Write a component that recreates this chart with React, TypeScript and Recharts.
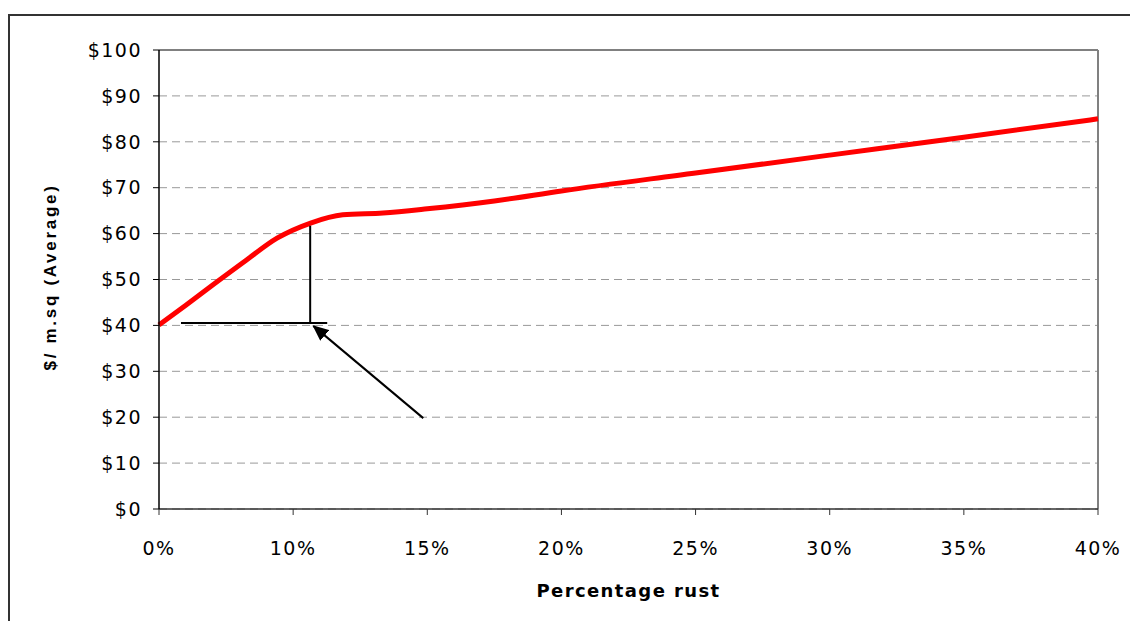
import React from 'react'
import {
  CartesianGrid,
  Label,
  Line,
  LineChart,
  ReferenceLine,
  XAxis,
  YAxis,
} from 'recharts'

// category slots on the x axis (0% .. 40%), position = slot index
const xTickLabels = ['0%', '10%', '15%', '20%', '25%', '30%', '35%', '40%']
const xTicks = [0, 1, 2, 3, 4, 5, 6, 7]
const yTicks = [0, 10, 20, 30, 40, 50, 60, 70, 80, 90, 100]

// points of the curve (slot position, $ per m.sq)
const rustPos = [0, 0.2, 0.4, 0.65, 0.88, 1.13, 1.37, 1.67, 2, 2.5, 3, 4, 5, 6, 7]
const avgCost = [40.1, 44.4, 48.8, 54.2, 59.0, 62.3, 64.1, 64.5, 65.4, 67.1, 69.3, 73.2, 77.1, 81.0, 85.0]

// annotation: reading at ~10% rust
const guideH = [{ x: 0.164, y: 40.5 }, { x: 1.254, y: 40.5 }]
const guideV = [{ x: 1.127, y: 40.5 }, { x: 1.127, y: 61.7 }]
const arrow = [{ x: 1.97, y: 19.8 }, { x: 1.15, y: 39.9 }]

const chartData = rustPos.map((p, i) => ({ pos: p, cost: avgCost[i] }))

const tickFont = {
  fontFamily: 'DejaVu Sans',
  fontSize: 19,
  letterSpacing: 1.5,
  fill: '#000',
}

export default function App() {
  return (
    <div
      style={{
        position: 'fixed',
        left: 0,
        top: 0,
        width: 1130,
        height: 621,
        overflow: 'hidden',
        background: '#fff',
      }}
    >
      <div
        style={{
          position: 'absolute',
          left: 8,
          top: 14,
          width: 1140,
          height: 640,
          border: '2px solid #333',
        }}
      >
        <LineChart
          width={1120}
          height={605}
          data={chartData}
          margin={{ top: 34, right: 32, bottom: 12, left: 0 }}
        >
          <defs>
            <marker
              id='arrowHead'
              markerWidth={16}
              markerHeight={14}
              refX={15}
              refY={7}
              orient='auto'
              markerUnits='userSpaceOnUse'
            >
              <path d='M0,0 L16,7 L0,14 z' fill='#000' />
            </marker>
          </defs>
          <CartesianGrid vertical={false} stroke='#999' strokeDasharray='8 5' />
          <XAxis
            dataKey='pos'
            type='number'
            domain={[0, 7]}
            ticks={xTicks}
            tickFormatter={(v: number) => xTickLabels[v]}
            height={100}
            tickSize={6}
            tickMargin={27}
            axisLine={{ stroke: '#333', strokeWidth: 1.5 }}
            tickLine={{ stroke: '#333' }}
            tick={tickFont}
            interval={0}
          >
            <Label
              content={({ viewBox }: any) => (
                <text
                  x={viewBox.x + viewBox.width / 2}
                  y={581}
                  textAnchor='middle'
                  fontFamily='DejaVu Sans'
                  fontWeight='bold'
                  fontSize={18}
                  letterSpacing={1.4}
                  fill='#000'
                >
                  Percentage rust
                </text>
              )}
            />
          </XAxis>
          <YAxis
            type='number'
            domain={[0, 100]}
            ticks={yTicks}
            tickFormatter={(v: number) => `$${v}`}
            width={149}
            tickSize={6}
            tickMargin={11}
            axisLine={{ stroke: '#000', strokeWidth: 1.5 }}
            tickLine={{ stroke: '#000' }}
            tick={tickFont}
            interval={0}
          >
            <Label
              content={() => (
                <text
                  x={46}
                  y={261}
                  transform='rotate(-90 46 261)'
                  textAnchor='middle'
                  fontFamily='Liberation Sans'
                  fontWeight='bold'
                  fontSize={17}
                  letterSpacing={2.7}
                  fill='#000'
                >
                  $/ m.sq (Average)
                </text>
              )}
            />
          </YAxis>
          <ReferenceLine y={100} stroke='#808080' strokeWidth={2} />
          <ReferenceLine x={7} stroke='#808080' strokeWidth={2} />
          <Line
            type='monotone'
            dataKey='cost'
            stroke='#ff0000'
            strokeWidth={5}
            dot={false}
            activeDot={false}
            isAnimationActive={false}
          />
          <ReferenceLine segment={guideH} stroke='#000' strokeWidth={2} />
          <ReferenceLine segment={guideV} stroke='#000' strokeWidth={2} />
          <ReferenceLine
            segment={arrow}
            stroke='#000'
            strokeWidth={2}
            markerEnd='url(#arrowHead)'
          />
        </LineChart>
      </div>
    </div>
  )
}
